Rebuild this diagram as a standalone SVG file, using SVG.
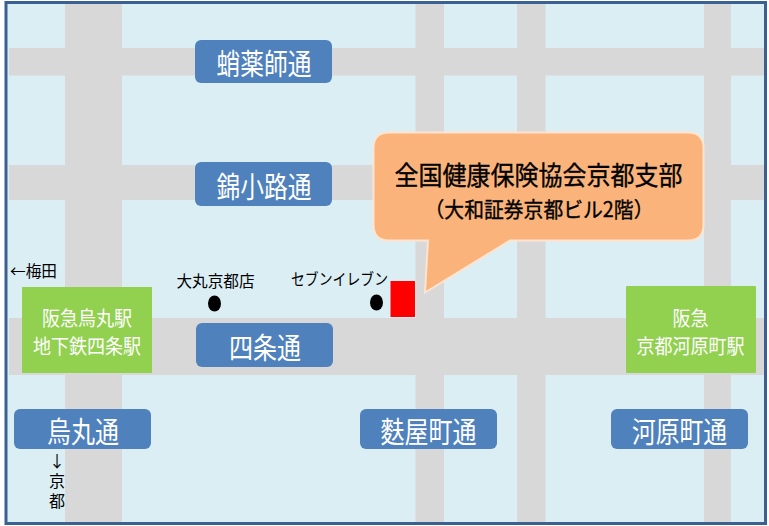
<svg xmlns="http://www.w3.org/2000/svg" width="769" height="526" viewBox="0 0 769 526">
<style>
text{font-family:"Noto Sans CJK JP","Noto Sans CJK SC",sans-serif;text-anchor:middle}
.road{fill:#d8d8d8}
.pill{fill:#4f81bd}
.st{fill:#92d050}
.pt{fill:#fff;font-size:29px}
.gt{fill:#fff;font-size:20px}
.bk{fill:#000;font-size:16px}
.ct{fill:#000;stroke:#000;stroke-width:.35px}
</style>
<rect width="769" height="526" fill="#fff"/>
<rect id="frame" x="6" y="2.500" width="759.500" height="521" fill="#dbeef4" stroke="#3a6192" stroke-width="3"/>
<g id="roads">
<rect class="road" x="9" y="48" width="755" height="27.500"/>
<rect class="road" x="9" y="165" width="755" height="35"/>
<rect class="road" x="9" y="318" width="755" height="57"/>
<rect class="road" x="65" y="4" width="57" height="518"/>
<rect class="road" x="415.500" y="4" width="28.500" height="518"/>
<rect class="road" x="517" y="4" width="28.500" height="518"/>
<rect class="road" x="704" y="4" width="27" height="518"/>
</g>
<g id="n-yakushi"><rect class="pill" x="195" y="40" width="137" height="43" rx="6"/><text class="pt" x="264" y="75" textLength="95" lengthAdjust="spacingAndGlyphs">蛸薬師通</text></g>
<g id="n-nishiki"><rect class="pill" x="195" y="162" width="137" height="44" rx="6"/><text class="pt" x="264" y="198" textLength="95" lengthAdjust="spacingAndGlyphs">錦小路通</text></g>
<g id="n-shijo"><rect class="pill" x="196" y="323" width="137" height="44" rx="6"/><text class="pt" x="265" y="359" textLength="72" lengthAdjust="spacingAndGlyphs">四条通</text></g>
<g id="n-karasuma"><rect class="pill" x="14" y="409" width="137" height="40" rx="6"/><text class="pt" x="83" y="443" textLength="72" lengthAdjust="spacingAndGlyphs">烏丸通</text></g>
<g id="n-fuyacho"><rect class="pill" x="360" y="409" width="137" height="40" rx="6"/><text class="pt" x="428.500" y="443" textLength="96" lengthAdjust="spacingAndGlyphs">麩屋町通</text></g>
<g id="n-kawaramachi"><rect class="pill" x="611" y="409" width="137" height="40" rx="6"/><text class="pt" x="679.500" y="443" textLength="95" lengthAdjust="spacingAndGlyphs">河原町通</text></g>
<g id="n-karasuma-st"><rect class="st" x="22" y="287" width="130" height="86"/><text class="gt" x="87" y="326" textLength="90" lengthAdjust="spacingAndGlyphs">阪急烏丸駅</text><text class="gt" x="87" y="354" textLength="108" lengthAdjust="spacingAndGlyphs">地下鉄四条駅</text></g>
<g id="n-kawaramachi-st"><rect class="st" x="626" y="286" width="130" height="87" rx="1"/><text class="gt" x="690.500" y="326" textLength="36" lengthAdjust="spacingAndGlyphs">阪急</text><text class="gt" x="690.500" y="354" textLength="108" lengthAdjust="spacingAndGlyphs">京都河原町駅</text></g>
<g id="n-office"><rect x="390.500" y="281" width="24.500" height="36" fill="#f00"/></g>
<g id="n-daimaru"><ellipse cx="214.500" cy="303.500" rx="6.500" ry="8" fill="#000"/><text class="bk" x="215.500" y="286.500" textLength="78" lengthAdjust="spacingAndGlyphs">大丸京都店</text></g>
<g id="n-seven"><ellipse cx="376.500" cy="302.500" rx="6.500" ry="8" fill="#000"/><text class="bk" x="339.500" y="284.500" textLength="97" lengthAdjust="spacingAndGlyphs">セブンイレブン</text></g>
<g id="n-callout"><path d="M389 132.500H688Q703.500 132.500 703.500 148V225Q703.500 240.500 688 240.500H510L425 292.500L428 240.500H389Q373.500 240.500 373.500 225V148Q373.500 132.500 389 132.500Z" fill="#fab37a" stroke="#fde4d0" stroke-width="2"/><text class="ct" x="538.500" y="184.500" font-size="26.500" textLength="288" lengthAdjust="spacingAndGlyphs">全国健康保険協会京都支部</text><text class="ct" x="539" y="216.500" font-size="21" textLength="229" lengthAdjust="spacingAndGlyphs">（大和証券京都ビル2階）</text></g>
<g id="n-umeda"><text class="bk" x="33.500" y="277" textLength="47" lengthAdjust="spacingAndGlyphs">←梅田</text></g>
<g id="n-kyoto"><text class="bk" x="57" y="453" writing-mode="vertical-rl" letter-spacing="4" style="text-anchor:start;text-orientation:upright">↓京都</text></g>
<g id="connectors"></g>
</svg>
